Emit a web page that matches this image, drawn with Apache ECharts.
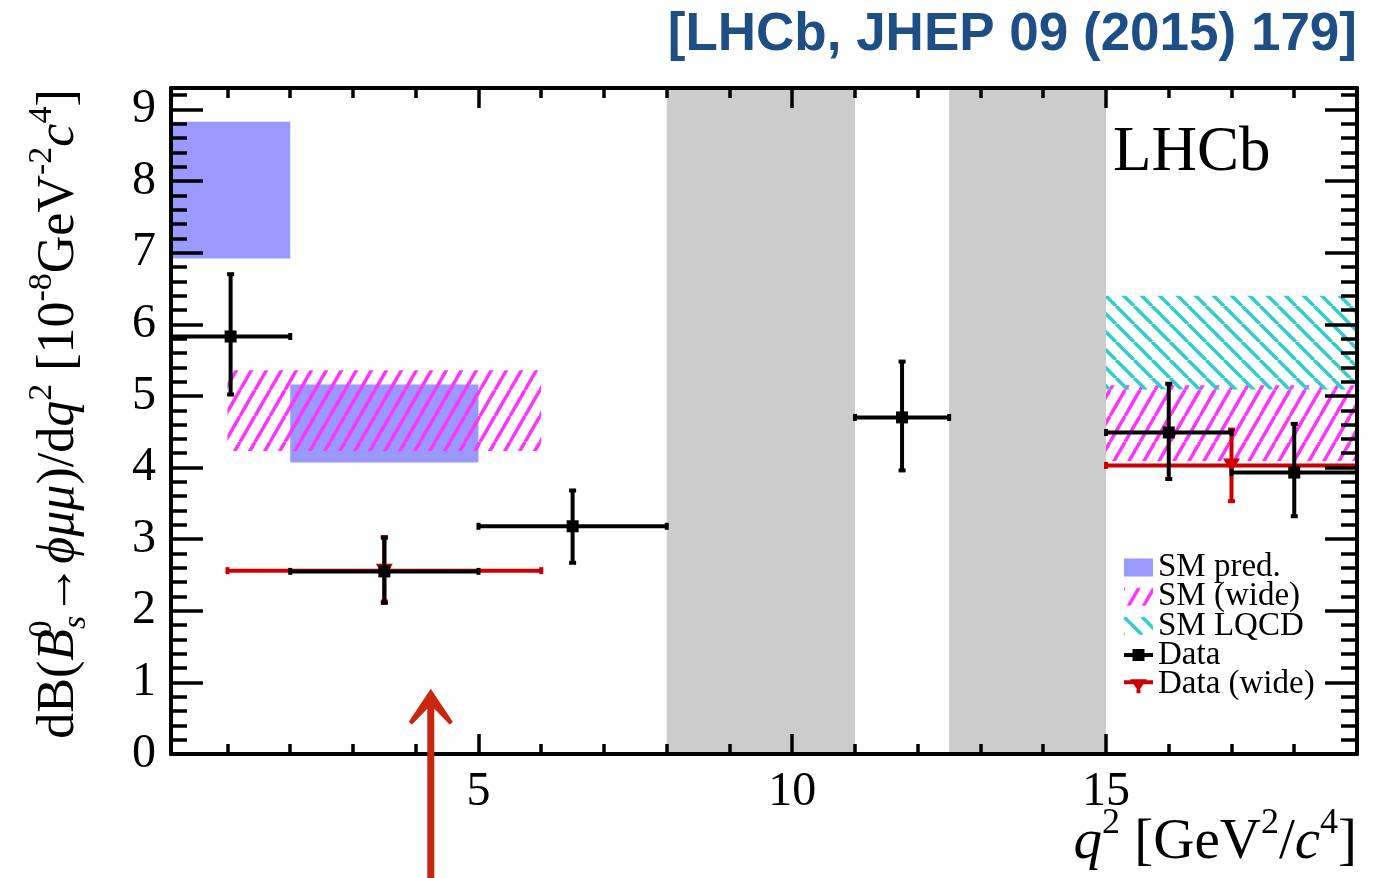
<!DOCTYPE html>
<html><head><meta charset="utf-8">
<script src="https://cdn.jsdelivr.net/npm/echarts@6/dist/echarts.min.js"></script>
<style>html,body{margin:0;padding:0;background:#fff}#c{width:1384px;height:878px}</style>
</head><body><div id="c"></div><script>
// ---------------- data ----------------
const binLow  = [0.1, 2, 5, 11, 15, 17];
const binHigh = [2, 5, 8, 12.5, 17, 19];
const dataX   = [1.05, 3.5, 6.5, 11.75, 16, 18];
const dataY   = [5.83, 2.55, 3.18, 4.70, 4.49, 3.93];
const dataYLo = [5.02, 2.11, 2.67, 3.96, 3.84, 3.32];
const dataYHi = [6.70, 3.02, 3.68, 5.48, 5.17, 4.61];

const wideLow  = [1, 15];
const wideHigh = [6, 19];
const wideX    = [3.5, 17];
const wideY    = [2.56, 4.03];
const wideYLo  = [2.13, 3.53];
const wideYHi  = [3.03, 4.53];

const smLow  = [0.1, 2];
const smHigh = [2, 5];
const smYLo  = [6.92, 4.07];
const smYHi  = [8.83, 5.16];

const smWideLow  = [1, 15];
const smWideHigh = [6, 19];
const smWideYLo  = [4.23, 4.09];
const smWideYHi  = [5.36, 5.15];

const lqcdLow  = [15];
const lqcdHigh = [19];
const lqcdYLo  = [5.09];
const lqcdYHi  = [6.40];

const vetoLow  = [8, 12.5];
const vetoHigh = [11, 15];

const xMajorTicks = [5, 10, 15];
const xMinorTicks = [1, 2, 3, 4, 6, 7, 8, 9, 11, 12, 13, 14, 16, 17, 18];
const yMajorTicks = [0, 1, 2, 3, 4, 5, 6, 7, 8, 9];
const yMinorTicks = [0.2,0.4,0.6,0.8,1.2,1.4,1.6,1.8,2.2,2.4,2.6,2.8,3.2,3.4,3.6,3.8,
  4.2,4.4,4.6,4.8,5.2,5.4,5.6,5.8,6.2,6.4,6.6,6.8,7.2,7.4,7.6,7.8,8.2,8.4,8.6,8.8,9.2];

const arrowX = 4.24;
const arrowTipY = 0.91;

// ---------------- helpers ----------------
function makeHatch(color, w, h, dir, lw) {
  const c = document.createElement('canvas');
  c.width = w; c.height = h;
  const ctx = c.getContext('2d');
  ctx.strokeStyle = color; ctx.lineWidth = lw;
  for (const dx of [-w, 0, w]) {
    ctx.beginPath();
    if (dir === '/') { ctx.moveTo(dx, h); ctx.lineTo(dx + w, 0); }
    else { ctx.moveTo(dx, 0); ctx.lineTo(dx + w, h); }
    ctx.stroke();
  }
  return { image: c, repeat: 'repeat' };
}
const pinkHatch = makeHatch('#ff33ff', 15, 26, '/', 3.5);
const cyanHatch = makeHatch('#33cccc', 18, 18, '\\', 3.5);

function boxRows(lo, hi, ylo, yhi) { return lo.map((v, i) => [v, hi[i], ylo[i], yhi[i]]); }
function errRows(x, y, xl, xh, yl, yh) { return x.map((v, i) => [v, y[i], xl[i], xh[i], yl[i], yh[i]]); }

function boxRender(fill) {
  return function (params, api) {
    const p0 = api.coord([api.value(0), api.value(3)]);
    const p1 = api.coord([api.value(1), api.value(2)]);
    return { type: 'rect', shape: { x: p0[0], y: p0[1], width: p1[0] - p0[0], height: p1[1] - p0[1] },
      style: { fill: fill } };
  };
}
function vetoRender(params, api) {
  const cs = params.coordSys;
  const p0 = api.coord([api.value(0), 0]);
  const p1 = api.coord([api.value(1), 0]);
  return { type: 'rect', shape: { x: p0[0], y: cs.y, width: p1[0] - p0[0], height: cs.height },
    style: { fill: '#cccccc' } };
}
function errRender(color, marker) {
  return function (params, api) {
    const c = api.coord([api.value(0), api.value(1)]);
    const xl = api.coord([api.value(2), api.value(1)])[0];
    const xh = api.coord([api.value(3), api.value(1)])[0];
    const yl = api.coord([api.value(0), api.value(4)])[1];
    const yh = api.coord([api.value(0), api.value(5)])[1];
    const lw = 4, cp = 3.5;
    const st = { stroke: color, lineWidth: lw };
    const ch = [
      { type: 'line', shape: { x1: xl, y1: c[1], x2: xh, y2: c[1] }, style: st },
      { type: 'line', shape: { x1: c[0], y1: yl, x2: c[0], y2: yh }, style: st },
      { type: 'line', shape: { x1: xl, y1: c[1] - cp, x2: xl, y2: c[1] + cp }, style: st },
      { type: 'line', shape: { x1: xh, y1: c[1] - cp, x2: xh, y2: c[1] + cp }, style: st },
      { type: 'line', shape: { x1: c[0] - cp, y1: yl, x2: c[0] + cp, y2: yl }, style: st },
      { type: 'line', shape: { x1: c[0] - cp, y1: yh, x2: c[0] + cp, y2: yh }, style: st }
    ];
    if (marker === 'square') {
      ch.push({ type: 'rect', shape: { x: c[0] - 6, y: c[1] - 6, width: 12, height: 12 }, style: { fill: color } });
    } else {
      ch.push({ type: 'polygon', shape: { points: [[c[0] - 8.5, c[1] - 7], [c[0] + 8.5, c[1] - 7], [c[0], c[1] + 7]] },
        style: { fill: color } });
    }
    return { type: 'group', children: ch };
  };
}

const serif = 'Liberation Serif';
const axisFrame = { show: true, onZero: false, lineStyle: { color: '#000', width: 4 } };
const noLine = { show: false, onZero: false };
function xAx(pos, ticks, len, label, line) {
  return { type: 'value', min: 0.1, max: 19, position: pos, z: 10,
    axisLine: line ? axisFrame : noLine, splitLine: { show: false },
    axisTick: { show: true, inside: true, length: len, customValues: ticks, lineStyle: { color: '#000', width: 3.5 } },
    axisLabel: label ? { show: true, customValues: ticks, margin: 14, fontFamily: serif, fontSize: 48, color: '#000' } : { show: false } };
}
function yAx(pos, ticks, len, label, line) {
  return { type: 'value', min: 0, max: 9.3, position: pos, z: 10,
    axisLine: line ? axisFrame : noLine, splitLine: { show: false },
    axisTick: { show: true, inside: true, length: len, customValues: ticks, lineStyle: { color: '#000', width: 3.5 } },
    axisLabel: label ? { show: true, customValues: ticks, margin: 15, fontFamily: serif, fontSize: 48, color: '#000' } : { show: false } };
}

function richSet(main, sup) {
  return {
    n:  { fontFamily: serif, fontSize: main, lineHeight: main * 1.3, color: '#000' },
    i:  { fontFamily: serif, fontSize: main, lineHeight: main * 1.3, fontStyle: 'italic', color: '#000' },
    sp: { fontFamily: serif, fontSize: sup, lineHeight: sup * 1.1, verticalAlign: 'top', color: '#000' },
    sp0:{ fontFamily: serif, fontSize: sup, lineHeight: sup * 1.1, verticalAlign: 'top', width: 0, color: '#000' },
    sb: { fontFamily: serif, fontSize: sup, lineHeight: sup, verticalAlign: 'bottom', fontStyle: 'italic', color: '#000' }
  };
}

const xAxes = [xAx('bottom', xMajorTicks, 20, true, true), xAx('bottom', xMinorTicks, 10, false, false),
               xAx('top', xMajorTicks, 20, false, true), xAx('top', xMinorTicks, 10, false, false)];

const yAxes = [yAx('left', yMajorTicks, 32, true, true), yAx('left', yMinorTicks, 16, false, false),
               yAx('right', yMajorTicks, 32, false, true), yAx('right', yMinorTicks, 16, false, false)];
yAxes[0].name = '{n|dB(}{i|B}{sp0|0}{sb|s}{n|→}{i|ϕμμ}{n|)/d}{i|q}{sp|2}{n| [10}{sp|-8}{n|GeV}{sp|-2}{i|c}{sp|4}{n|]}';
yAxes[0].nameLocation = 'middle';
yAxes[0].nameRotate = 90;
yAxes[0].nameGap = 78;
yAxes[0].nameTextStyle = { rich: richSet(52, 34), padding: [0, 0, 0, 14] };

const dataIcon = 'path://M0,0 L0.01,0 Z M29,18 L28.99,18 Z M0,7 L29,7 L29,11 L0,11 Z M8.5,3 L20.5,3 L20.5,15 L8.5,15 Z';
const wideIcon = 'path://M0,0 L0.01,0 Z M29,18 L28.99,18 Z M0,5 L29,5 L29,9 L0,9 Z M6,4 L23,4 L14.5,16 Z M12.5,14 L16.5,14 L16.5,18 L12.5,18 Z';

const chart = echarts.init(document.getElementById('c'), null, { renderer: 'canvas' });
const option = {
  animation: false,
  backgroundColor: '#fff',
  title: { text: '[LHCb, JHEP 09 (2015) 179]', right: 27, top: 9, padding: 0,
    textStyle: { fontFamily: 'Liberation Sans', fontWeight: 'bold', fontSize: 53, color: '#1d4f86' } },
  grid: { left: 171, right: 27, top: 88, bottom: 124, containLabel: false, outerBoundsMode: 'none' },
  xAxis: xAxes,
  yAxis: yAxes,
  legend: {
    orient: 'vertical', left: 1124, top: 551, padding: 0, itemGap: -3.8,
    itemWidth: 29, itemHeight: 18, selectedMode: false,
    textStyle: { fontFamily: serif, fontSize: 33, lineHeight: 29.5, color: '#000' },
    data: [
      { name: 'SM pred.', icon: 'rect' },
      { name: 'SM (wide)', icon: 'rect' },
      { name: 'SM LQCD', icon: 'rect' },
      { name: 'Data', icon: dataIcon },
      { name: 'Data (wide)', icon: wideIcon }
    ]
  },
  series: [
    { name: 'veto', type: 'custom', z: 1, renderItem: vetoRender, data: vetoLow.map((v, i) => [v, vetoHigh[i]]),
      encode: { x: [0, 1] }, silent: true },
    { name: 'SM pred.', type: 'custom', z: 2, renderItem: boxRender('#9999ff'), itemStyle: { color: '#9999ff' },
      data: boxRows(smLow, smHigh, smYLo, smYHi), encode: { x: [0, 1], y: [2, 3] } },
    { name: 'SM (wide)', type: 'custom', z: 3, renderItem: boxRender(pinkHatch), itemStyle: { color: pinkHatch },
      data: boxRows(smWideLow, smWideHigh, smWideYLo, smWideYHi), encode: { x: [0, 1], y: [2, 3] } },
    { name: 'SM LQCD', type: 'custom', z: 3, renderItem: boxRender(cyanHatch), itemStyle: { color: cyanHatch },
      data: boxRows(lqcdLow, lqcdHigh, lqcdYLo, lqcdYHi), encode: { x: [0, 1], y: [2, 3] } },
    { name: 'Data (wide)', type: 'custom', z: 4, renderItem: errRender('#cc0000', 'tri'), itemStyle: { color: '#cc0000' },
      data: errRows(wideX, wideY, wideLow, wideHigh, wideYLo, wideYHi), encode: { x: [0, 2, 3], y: [1, 4, 5] } },
    { name: 'Data', type: 'custom', z: 5, renderItem: errRender('#000000', 'square'), itemStyle: { color: '#000000' },
      data: errRows(dataX, dataY, binLow, binHigh, dataYLo, dataYHi), encode: { x: [0, 2, 3], y: [1, 4, 5] } }
  ]
};
chart.setOption(option);

// annotations
const tip = chart.convertToPixel({ xAxisIndex: 0, yAxisIndex: 0 }, [arrowX, arrowTipY]);
const tx = tip[0], ty = tip[1];
chart.setOption({
  graphic: [
    { type: 'text', left: 1113, top: 122, z: 20,
      style: { text: 'LHCb', font: '63px "Liberation Serif"', fill: '#000' } },
    { type: 'text', right: 27, top: 806, z: 20,
      style: { text: '{i|q}{sp|2}{n| [GeV}{sp|2}{n|/}{i|c}{sp|4}{n|]}', rich: richSet(57, 36) } },
    { type: 'polygon', z: 30, silent: true,
      shape: { points: [[tx, ty], [tx + 22, ty + 33], [tx + 19, ty + 36], [tx + 3.5, ty + 20], [tx + 3.5, 878],
        [tx - 3.5, 878], [tx - 3.5, ty + 20], [tx - 19, ty + 36], [tx - 22, ty + 33]] },
      style: { fill: '#c8260e' } }
  ]
});
</script></body></html>
